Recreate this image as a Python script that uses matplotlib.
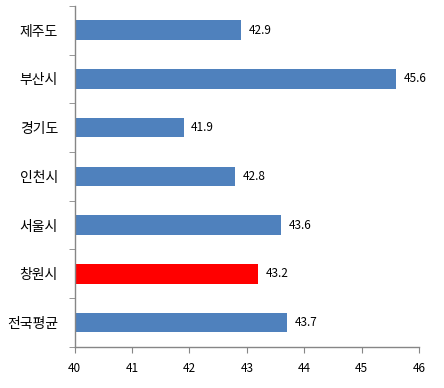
import matplotlib
matplotlib.use("Agg")
import matplotlib.pyplot as plt
import numpy as np
from matplotlib.ticker import FixedLocator

plt.rcParams['font.family'] = ['Noto Sans CJK KR', 'DejaVu Sans']

categories = ['제주도', '부산시', '경기도', '인천시', '서울시', '창원시', '전국평균']
values = [42.9, 45.6, 41.9, 42.8, 43.6, 43.2, 43.7]
colors = ['#4F81BD', '#4F81BD', '#4F81BD', '#4F81BD', '#4F81BD', '#FF0000', '#4F81BD']
xticks = [40, 41, 42, 43, 44, 45, 46]

fig = plt.figure(figsize=(4.44, 3.88), dpi=100)
ax = fig.add_axes([0.168, 0.106, 0.776, 0.879])

n = len(categories)
y = np.arange(n)
base = 40
ax.barh(y, [v - base for v in values], left=base, height=0.4, color=colors)
ax.set_ylim(n - 0.5, -0.5)
ax.set_xlim(40, 46)
ax.set_xticks(xticks)
ax.set_xticklabels([str(t) for t in xticks], fontsize=8.5)
ax.set_yticks(y)
ax.set_yticklabels(categories, fontsize=10)
ax.tick_params(axis='y', which='major', length=0, pad=12)
ax.yaxis.set_minor_locator(FixedLocator(np.arange(-0.5, n, 1.0)))
ax.tick_params(axis='y', which='minor', length=4, color='#868686', direction='out')
ax.tick_params(axis='x', which='major', length=4, color='#868686', direction='out', pad=7)

for s in ['top', 'right']:
    ax.spines[s].set_visible(False)
for s in ['left', 'bottom']:
    ax.spines[s].set_color('#868686')
    ax.spines[s].set_linewidth(1.0)

for yi, v in zip(y, values):
    ax.text(v + 0.13, yi, f"{v}", va='center', ha='left', fontsize=8.5)

fig.savefig('out.png', dpi=100)
